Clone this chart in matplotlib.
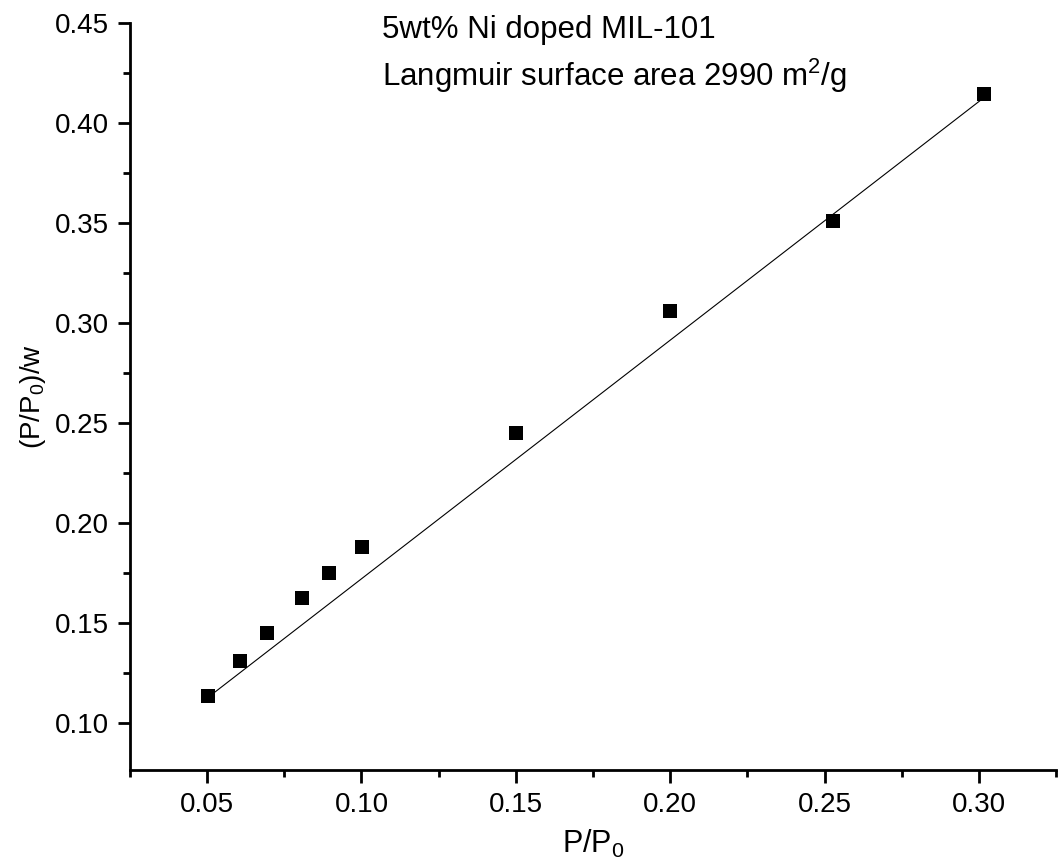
import matplotlib
matplotlib.use('Agg')
import matplotlib.pyplot as plt
import numpy as np
from matplotlib.ticker import MultipleLocator, FormatStrFormatter

plt.rcParams['font.family'] = ['Liberation Sans', 'DejaVu Sans']
plt.rcParams['mathtext.fontset'] = 'custom'
plt.rcParams['mathtext.rm'] = 'Liberation Sans'
plt.rcParams['mathtext.it'] = 'Liberation Sans:italic'

# measured points
p_p0 = [0.0504, 0.0608, 0.0694, 0.0806, 0.0894, 0.1002, 0.1501, 0.1999, 0.2527, 0.3017]
p_w = [0.1135, 0.1312, 0.1450, 0.1624, 0.1749, 0.1882, 0.2449, 0.3060, 0.3510, 0.4143]

# Langmuir fit line
fit_slope = 1.193
fit_intercept = 0.0528
fit_x = [p_p0[0], p_p0[-1]]

fig = plt.figure(figsize=(10.61, 8.61), dpi=100)
ax = fig.add_axes([0.1225, 0.1057, 0.8728, 0.8676])

fx = np.array(fit_x)
ax.plot(fx, fit_intercept + fit_slope*fx, color='k', linewidth=0.8)
ax.plot(p_p0, p_w, linestyle='none', marker='s', markersize=10.5,
        color='k', markeredgewidth=0)

ax.set_xlim(0.025, 0.325)
ax.set_ylim(0.0765, 0.45)

ax.spines['top'].set_visible(False)
ax.spines['right'].set_visible(False)
ax.spines['left'].set_linewidth(2.0)
ax.spines['bottom'].set_linewidth(2.0)

ax.xaxis.set_major_locator(MultipleLocator(0.05))
ax.xaxis.set_minor_locator(MultipleLocator(0.025))
ax.yaxis.set_major_locator(MultipleLocator(0.05))
ax.yaxis.set_minor_locator(MultipleLocator(0.025))
ax.xaxis.set_major_formatter(FormatStrFormatter('%.2f'))
ax.yaxis.set_major_formatter(FormatStrFormatter('%.2f'))

ax.tick_params(which='major', direction='out', length=9, width=2.0, labelsize=20)
ax.tick_params(which='minor', direction='out', length=5, width=2.0)
ax.tick_params(axis='x', which='major', pad=7)
ax.tick_params(axis='y', which='major', pad=6)

ax.set_xlabel(r'P/P$_\mathregular{0}$', fontsize=22, labelpad=7)
ax.set_ylabel(r'(P/P$_\mathregular{0}$)/w', fontsize=20, labelpad=5)

ax.text(0.272, 0.980, '5wt% Ni doped MIL-101', transform=ax.transAxes,
        fontsize=22.5, va='baseline', ha='left')
ax.text(0.272, 0.9157, r'Langmuir surface area 2990 m$^\mathregular{2}$/g',
        transform=ax.transAxes, fontsize=22.5, va='baseline', ha='left')

plt.savefig('out.png', dpi=100)
